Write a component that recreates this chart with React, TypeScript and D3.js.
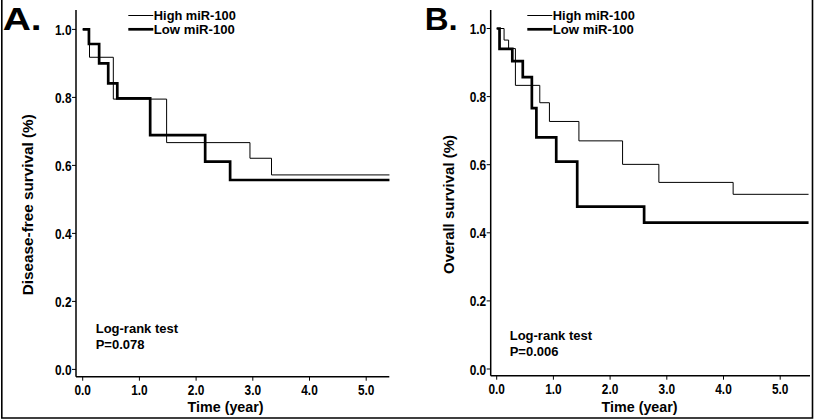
import React from "react";
import * as d3 from "d3";

// ---- data ----
const xTicks = [0, 1, 2, 3, 4, 5];
const yTicks = [0, 0.2, 0.4, 0.6, 0.8, 1.0];
const seriesNames = ["High miR-100", "Low miR-100"];

const aHighTime = [0, 0.12, 0.54, 1.48, 2.95, 3.33, 5.41];
const aHighSurv = [1.0, 0.918, 0.795, 0.667, 0.621, 0.572, 0.572];
const aLowTime = [0, 0.11, 0.29, 0.45, 0.61, 1.19, 2.16, 2.6, 5.41];
const aLowSurv = [1.0, 0.957, 0.9, 0.841, 0.797, 0.689, 0.611, 0.557, 0.557];

const bHighTime = [0, 0.13, 0.21, 0.33, 0.76, 0.93, 1.45, 2.22, 2.86, 4.17, 5.5];
const bHighSurv = [1.0, 0.966, 0.941, 0.833, 0.782, 0.727, 0.67, 0.601, 0.548, 0.513, 0.513];
const bLowTime = [0, 0.05, 0.275, 0.46, 0.62, 0.7, 1.05, 1.42, 2.6, 5.5];
const bLowSurv = [1.0, 0.94, 0.904, 0.857, 0.766, 0.68, 0.609, 0.477, 0.43, 0.43];

const FONT = "'Liberation Sans', Arial, Helvetica, sans-serif";

type PanelProps = {
  letter: string;
  letterX: number;
  letterLen: number;
  yTitle: string;
  yTitleLen: number;
  pText: string;
  xRange: [number, number];
  yRange: [number, number];
  axisX: number;
  axisY: number;
  axisXEnd: number;
  titleX: number;
  legendX: number;
  logX: number;
  logY: number;
  high: [number[], number[]];
  low: [number[], number[]];
};

function Panel(p: PanelProps) {
  const x = d3.scaleLinear().domain([0, 5]).range(p.xRange);
  const y = d3.scaleLinear().domain([0, 1]).range(p.yRange);
  const line = d3
    .line<[number, number]>()
    .x((d) => x(d[0]))
    .y((d) => y(d[1]))
    .curve(d3.curveStepAfter);
  const hi = p.high[0].map((t, i) => [t, p.high[1][i]] as [number, number]);
  const lo = p.low[0].map((t, i) => [t, p.low[1][i]] as [number, number]);
  const yMid = (y(0) + 10) / 2 + 15;
  return (
    <g fontFamily={FONT} fontWeight="bold" fill="#000">
      <text x={p.letterX} y={29.5} fontSize={32} textLength={p.letterLen} lengthAdjust="spacingAndGlyphs">
        {p.letter}
      </text>
      {/* axes */}
      <line x1={p.axisX} x2={p.axisX} y1={10} y2={p.axisY} stroke="#000" strokeWidth={1.5} />
      <line x1={p.axisX} x2={p.axisXEnd} y1={p.axisY} y2={p.axisY} stroke="#000" strokeWidth={1.5} />
      {yTicks.map((t) => (
        <g key={"y" + t}>
          <line x1={p.axisX - 4} x2={p.axisX} y1={y(t)} y2={y(t)} stroke="#000" strokeWidth={1} />
          <text x={p.axisX - 4.5} y={y(t) + 5.5} fontSize={15} textAnchor="end" textLength={16.5} lengthAdjust="spacingAndGlyphs">
            {d3.format(".1f")(t)}
          </text>
        </g>
      ))}
      {xTicks.map((t) => (
        <g key={"x" + t}>
          <line x1={x(t)} x2={x(t)} y1={p.axisY} y2={p.axisY + 4} stroke="#000" strokeWidth={1} />
          <text x={x(t)} y={p.axisY + 18.5} fontSize={15} textAnchor="middle" textLength={16.5} lengthAdjust="spacingAndGlyphs">
            {d3.format(".1f")(t)}
          </text>
        </g>
      ))}
      <text x={x(2.52)} y={411.7} fontSize={15} textAnchor="middle" textLength={76} lengthAdjust="spacingAndGlyphs">
        Time (year)
      </text>
      <text
        transform={`translate(${p.titleX},${yMid}) rotate(-90)`}
        fontSize={15}
        textAnchor="middle"
        textLength={p.yTitleLen}
        lengthAdjust="spacingAndGlyphs"
      >
        {p.yTitle}
      </text>
      {/* curves */}
      <path d={line(hi) || ""} fill="none" stroke="#000" strokeWidth={1} />
      <path d={line(lo) || ""} fill="none" stroke="#000" strokeWidth={2.7} />
      {/* legend */}
      <line x1={p.legendX} x2={p.legendX + 25} y1={15.5} y2={15.5} stroke="#000" strokeWidth={1} />
      <line x1={p.legendX} x2={p.legendX + 25} y1={29.3} y2={29.3} stroke="#000" strokeWidth={2.7} />
      <text x={p.legendX + 25.5} y={19.6} fontSize={12.5} textLength={82} lengthAdjust="spacingAndGlyphs">
        {seriesNames[0]}
      </text>
      <text x={p.legendX + 25.5} y={34.3} fontSize={12.5} textLength={81} lengthAdjust="spacingAndGlyphs">
        {seriesNames[1]}
      </text>
      {/* log-rank */}
      <text x={p.logX} y={p.logY} fontSize={13}>
        Log-rank test
      </text>
      <text x={p.logX} y={p.logY + 16} fontSize={13}>
        {p.pText}
      </text>
    </g>
  );
}

export default function App() {
  return (
    <svg
      width={816}
      height={420}
      style={{ position: "absolute", left: 0, top: 0, background: "#fff" }}
    >
      <rect x={0} y={0} width={816} height={420} fill="#fff" />
      <path d="M1.8,0 V418 H812.5 V0" fill="none" stroke="#000" strokeWidth={1.6} />
      <Panel
        letter="A."
        letterX={2.7}
        letterLen={39}
        yTitle="Disease-free survival (%)"
        yTitleLen={181}
        pText="P=0.078"
        xRange={[82.7, 366.2]}
        yRange={[369.4, 29.4]}
        axisX={76}
        axisY={376.7}
        axisXEnd={389.3}
        titleX={33.3}
        legendX={128.3}
        logX={95.7}
        logY={333.3}
        high={[aHighTime, aHighSurv]}
        low={[aLowTime, aLowSurv]}
      />
      <Panel
        letter="B."
        letterX={424.7}
        letterLen={33}
        yTitle="Overall survival (%)"
        yTitleLen={139}
        pText="P=0.006"
        xRange={[496.7, 780.2]}
        yRange={[369, 28.5]}
        axisX={490.7}
        axisY={375.7}
        axisXEnd={810}
        titleX={453.7}
        legendX={527.3}
        logX={509.7}
        logY={339.5}
        high={[bHighTime, bHighSurv]}
        low={[bLowTime, bLowSurv]}
      />
    </svg>
  );
}
